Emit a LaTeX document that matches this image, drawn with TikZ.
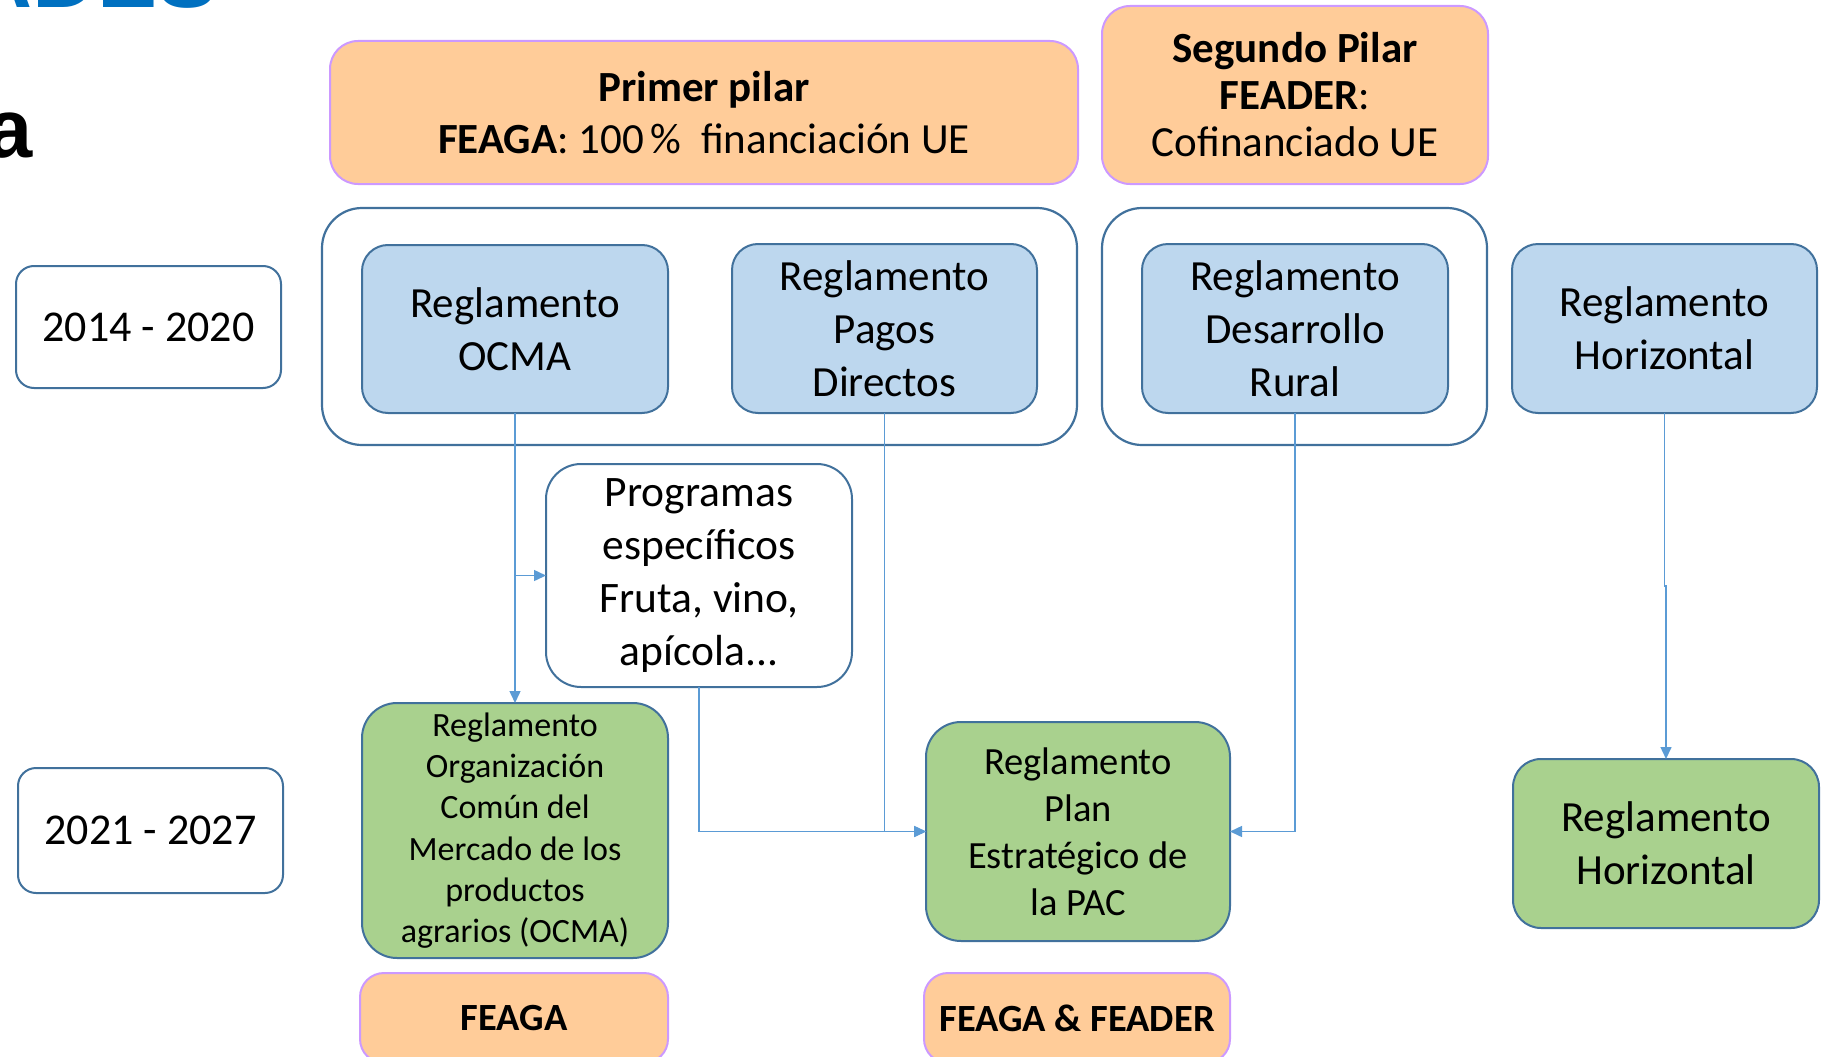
\documentclass[tikz,border=0pt]{standalone}
\usepackage{fontspec}
\setmainfont{Carlito}
\newfontfamily\arialfont{Liberation Sans}
\usetikzlibrary{arrows.meta}
\definecolor{orangefill}{HTML}{FFCC99}
\definecolor{lav}{HTML}{CC99FF}
\definecolor{bluefill}{HTML}{BDD7EE}
\definecolor{greenfill}{HTML}{A9D18E}
\definecolor{edge}{HTML}{41719C}
\definecolor{conncol}{HTML}{5B9BD5}
\definecolor{titleblue}{HTML}{0070C0}
\begin{document}
\begin{tikzpicture}[x=1pt,y=-1pt,
  base/.style={align=center, inner sep=0pt, outer sep=0pt, line width=2pt},
  bluebox/.style={base, draw=edge, fill=bluefill, rounded corners=26pt, font=\fontsize{43}{53}\selectfont},
  greenbox/.style={base, draw=edge, fill=greenfill, rounded corners=35pt},
  orangebox/.style={base, draw=lav, fill=orangefill, rounded corners=28pt},
  whitebox/.style={base, draw=edge, fill=white},
  container/.style={base, draw=edge, line width=2.2pt, rounded corners=40pt},
  conn/.style={draw=conncol, line width=1.5pt},
  arr/.style={conn, -{Triangle[length=12pt,width=11pt]}}]
\useasboundingbox (0,0) rectangle (1831,1057);

% cut-off slide title fragments
\node[anchor=base west, inner sep=0pt, text=titleblue, font=\arialfont\bfseries\fontsize{90}{90}\selectfont] (ttl) at (-33,8) {ADES};
\node[anchor=base west, inner sep=0pt, font=\arialfont\bfseries\fontsize{83}{83}\selectfont] (ttla) at (-14,157) {a};

% pillars
\node[orangebox, minimum width=748pt, minimum height=143pt, font=\fontsize{43}{52.5}\selectfont] (primer) at (704,112.5)
  {\textbf{Primer pilar}\\\textbf{FEAGA}: 100\,\%\ \ financiación UE};
\node[orangebox, minimum width=386pt, minimum height=178pt, font=\fontsize{43}{47}\selectfont] (segundo) at (1295,95)
  {\textbf{Segundo Pilar}\\\textbf{FEADER}:\\Cofinanciado UE};

% years
\node[whitebox, rounded corners=18pt, minimum width=265pt, minimum height=122pt, font=\fontsize{44}{53}\selectfont] (y1) at (148.5,327) {2014 - 2020};
\node[whitebox, rounded corners=18pt, minimum width=265pt, minimum height=125pt, font=\fontsize{44}{53}\selectfont] (y2) at (150.5,830.5) {2021 - 2027};

% containers
\node[container, minimum width=755pt, minimum height=237pt] (contL) at (699.5,326.5) {};
\node[container, minimum width=385pt, minimum height=237pt] (contR) at (1294.5,326.5) {};

% 2014-2020 regulations
\node[bluebox, minimum width=306pt, minimum height=168pt] (ocma) at (515,329) {Reglamento\\OCMA};
\node[bluebox, minimum width=305pt, minimum height=169pt] (pagos) at (884.5,328.5) {Reglamento\\Pagos\\Directos};
\node[bluebox, minimum width=306pt, minimum height=169pt] (desrural) at (1295,328.5) {Reglamento\\Desarrollo\\Rural};
\node[bluebox, minimum width=305pt, minimum height=169pt] (horiz) at (1664.5,328.5) {Reglamento\\Horizontal};

% specific programmes
\node[whitebox, rounded corners=35pt, minimum width=306pt, minimum height=223pt, font=\fontsize{43.5}{53.3}\selectfont] (prog) at (699,575.5)
  {\raisebox{-4pt}{\parbox{300pt}{\centering Programas\\específicos\\Fruta, vino,\\apícola...}}};

% 2021-2027 regulations
\node[greenbox, minimum width=306pt, minimum height=255pt, font=\fontsize{34}{41.3}\selectfont] (ocmaN) at (515,830.5)
  {Reglamento\\Organización\\Común del\\Mercado de los\\productos\\agrarios (OCMA)};
\node[greenbox, minimum width=304pt, minimum height=219pt, font=\fontsize{38.5}{47}\selectfont] (plan) at (1078,831.5)
  {Reglamento\\Plan\\Estratégico de\\la PAC};
\node[greenbox, rounded corners=28pt, minimum width=306pt, minimum height=169pt, font=\fontsize{43}{53}\selectfont] (horizN) at (1666,843.5)
  {Reglamento\\Horizontal};

% funds
\node[orangebox, rounded corners=24pt, minimum width=308pt, minimum height=90pt, font=\bfseries\fontsize{38.5}{46}\selectfont] (feaga) at (514,1018) {FEAGA};
\node[orangebox, rounded corners=24pt, minimum width=306pt, minimum height=90pt, font=\bfseries\fontsize{38.5}{46}\selectfont] (feader) at (1077,1018) {FEAGA \& FEADER};

% connectors
\draw[arr] (ocma.south) -- (ocmaN.north);
\draw[arr] (ocma.south |- prog.west) -- (prog.west);
\draw[arr] (prog.south) |- (plan.west);
\draw[arr] (pagos.south) |- (plan.west);
\draw[arr] (desrural.south) |- (plan.east);
\draw[arr] (horiz.south) -- ++(0,173) -| (horizN.north);
\end{tikzpicture}
\end{document}
